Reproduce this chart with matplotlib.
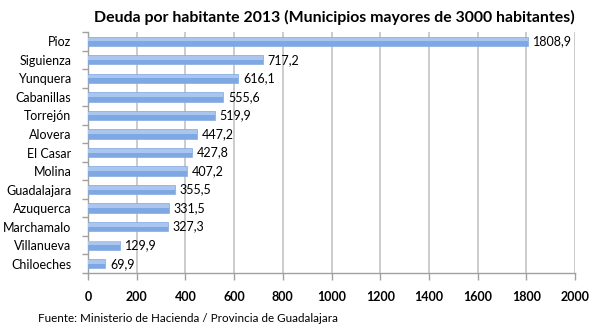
import matplotlib
matplotlib.use("Agg")
import matplotlib.pyplot as plt
import numpy as np

# Data
municipios = ["Pioz", "Siguienza", "Yunquera", "Cabanillas", "Torrejón", "Alovera",
              "El Casar", "Molina", "Guadalajara", "Azuquerca", "Marchamalo",
              "Villanueva", "Chiloeches"]
deuda = [1808.9, 717.2, 616.1, 555.6, 519.9, 447.2, 427.8, 407.2, 355.5,
         331.5, 327.3, 129.9, 69.9]
xticks = [0, 200, 400, 600, 800, 1000, 1200, 1400, 1600, 1800, 2000]

plt.rcParams['font.family'] = ['Lato', 'DejaVu Sans']

fig = plt.figure(figsize=(6.0, 3.36), dpi=100)
ax = fig.add_axes([88 / 600, 1 - 273 / 336, (575 - 88) / 600, (273 - 32) / 336])

y = np.arange(len(municipios))
# bar plus a soft lighter band on top, to suggest the gradient fill
ax.barh(y, deuda, height=0.5, color="#7ea8e3", edgecolor="#86ace2", linewidth=0.5, zorder=3)
ax.barh(y - 0.1, deuda, height=0.2, color="#aac6ee", linewidth=0, zorder=4)

for yi, v in zip(y, deuda):
    ax.text(v + 20, yi, f"{v:.1f}".replace(".", ","), va="center", ha="left",
            fontsize=9, color="black", zorder=5)

ax.set_xlim(0, 2000)
ax.set_ylim(len(municipios) - 0.5, -0.5)
ax.set_xticks(xticks)
ax.set_xticklabels([str(t) for t in xticks], fontsize=9, fontweight="bold")
ax.set_yticks(y)
ax.set_yticklabels(municipios, fontsize=9)
ax.set_yticks(np.arange(len(municipios) + 1) - 0.5, minor=True)
ax.tick_params(axis="y", which="major", length=0, pad=12)
ax.tick_params(axis="y", which="minor", length=4, color="#a0a0a0", width=1)
ax.tick_params(axis="x", length=5, color="#a0a0a0", width=1, pad=8)

ax.grid(axis="x", color="#c8c8c8", linewidth=1.3, zorder=0)
for s in ["top", "right"]:
    ax.spines[s].set_visible(False)
for s in ["left", "bottom"]:
    ax.spines[s].set_color("#a0a0a0")
    ax.spines[s].set_linewidth(1)

fig.text(334 / 600, 1 - 17 / 336, "Deuda por habitante 2013 (Municipios mayores de 3000 habitantes)",
         ha="center", va="center", fontsize=11.4, fontweight="bold")
fig.text(38 / 600, 1 - 318 / 336, "Fuente: Ministerio de Hacienda / Provincia de Guadalajara",
         ha="left", va="center", fontsize=8.4)

fig.savefig("out.png", dpi=100)
